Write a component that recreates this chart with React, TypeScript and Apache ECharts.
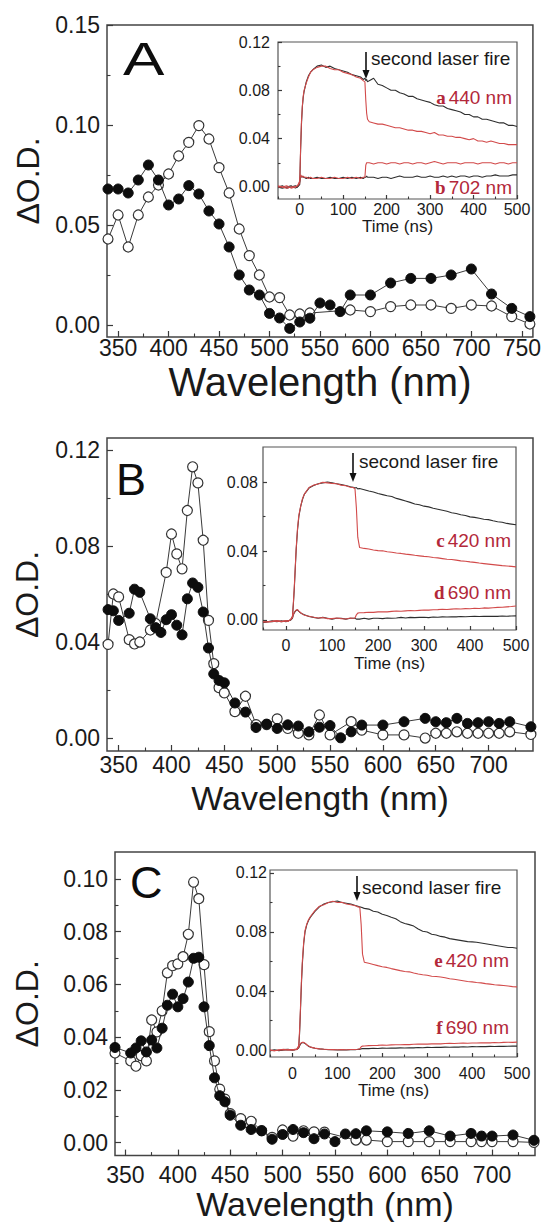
import React, { useEffect, useRef } from "react";
import * as echarts from "echarts";

const FONT = '"Liberation Sans", Arial, sans-serif';
const SERIF = '"Liberation Serif", "Times New Roman", serif';
const AX = "#3a3a3a";
const TXT = "#1a1a1a";
const RED_LINE = "#d24a4a";
const RED_TXT = "#b3283a";
const BLACK_LINE = "#2e2e2e";

// ---------- Panel A: spectra ----------
const wlAClosed = [340,350,360,370,380,390,400,410,420,430,440,450,460,470,480,490,500,510,520,530,540,550,560,570,580,600,620,640,660,680,700,720,740,758];
const odAClosed = [0.068,0.068,0.066,0.0725,0.080,0.0725,0.060,0.063,0.0697,0.0655,0.057,0.0505,0.039,0.025,0.0175,0.015,0.0058,0.0035,-0.0017,0.0015,0.0034,0.011,0.010,0.0067,0.015,0.015,0.021,0.0233,0.0233,0.025,0.028,0.0155,0.0083,0.0042];
const wlAOpen = [340,350,360,370,380,390,400,410,420,430,440,450,460,470,480,490,500,510,520,530,540,580,600,620,640,660,680,700,720,740,758];
const odAOpen = [0.043,0.055,0.039,0.055,0.064,0.070,0.0755,0.0845,0.0913,0.0997,0.093,0.0787,0.066,0.048,0.0347,0.025,0.014,0.0137,0.005,0.0055,0.006,0.0075,0.0067,0.0092,0.010,0.010,0.0083,0.010,0.0095,0.0042,0.0005];

// ---------- Panel B: spectra ----------
const wlBClosed = [340,345,350,360,365,370,380,385,390,395,400,405,410,415,420,425,430,435,440,445,450,460,470,480,490,500,510,520,530,540,550,560,570,580,600,620,640,650,660,670,680,690,700,710,720,740];
const odBClosed = [0.0535,0.053,0.049,0.052,0.062,0.0607,0.0497,0.046,0.044,0.0493,0.0514,0.047,0.043,0.058,0.0646,0.0628,0.0525,0.0375,0.0267,0.024,0.023,0.0146,0.0108,0.0044,0.0058,0.004,0.0055,0.005,0.0026,0.0045,0.0052,0.0001,0.0026,0.0054,0.0054,0.0068,0.0082,0.0068,0.0064,0.0082,0.0061,0.0064,0.0068,0.0061,0.0068,0.0047];
const wlBOpen = [340,345,350,360,365,370,380,385,395,400,405,410,415,420,425,430,435,440,445,450,460,470,480,490,500,510,520,530,540,550,570,580,600,620,640,650,660,670,680,690,700,710,720,740];
const odBOpen = [0.039,0.060,0.0588,0.041,0.0392,0.040,0.045,0.0477,0.069,0.085,0.0767,0.0705,0.0948,0.113,0.1063,0.0824,0.049,0.031,0.021,0.0188,0.011,0.0174,0.0056,0.0056,0.008,0.004,0.002,0.0013,0.0096,0.0013,0.0068,0.0033,0.0013,0.0013,0.0,0.002,0.002,0.0026,0.002,0.002,0.002,0.002,0.0026,0.0015];

// ---------- Panel C: spectra ----------
const wlCClosed = [340,355,360,365,370,375,380,385,390,395,400,405,410,415,420,425,430,435,440,445,450,460,470,480,490,500,510,520,530,540,550,560,570,580,600,620,640,660,680,690,700,720,740];
const odCClosed = [0.0361,0.034,0.0359,0.0386,0.0344,0.0389,0.0359,0.0434,0.0521,0.0563,0.0515,0.0546,0.0609,0.0699,0.0703,0.0515,0.0368,0.0246,0.0178,0.0155,0.0104,0.0066,0.005,0.0045,0.0013,0.0031,0.005,0.0038,0.0015,0.0033,0.0004,0.0033,0.0034,0.0045,0.0041,0.0035,0.0045,0.0025,0.0035,0.0025,0.0025,0.0029,0.0009];
const wlCOpen = [340,355,360,365,370,375,380,385,390,395,400,405,410,415,420,425,430,435,440,445,450,460,470,480,490,500,510,520,530,540,570,580,600,620,640,660,680,690,700,720,740];
const odCOpen = [0.034,0.031,0.029,0.033,0.031,0.0465,0.042,0.050,0.0644,0.0671,0.0678,0.0705,0.079,0.0988,0.0925,0.0675,0.0421,0.031,0.0203,0.0165,0.011,0.0091,0.0081,0.0046,0.002,0.0048,0.0025,0.0045,0.0041,0.004,0.001,0.001,0.0004,0.0004,0.0004,0.0004,0.0004,0.0004,0.0004,0.0004,0.0001];

// ---------- Inset A: kinetics ----------
const timeA = [-50,-40,-30,-20,-10,-5,0,2,4,6,8,10,15,20,25,30,40,50,60,70,80,90,100,110,120,130,140,146,150,152,154,156,160,170,180,190,200,210,220,230,240,250,260,270,280,290,300,310,320,330,340,350,360,370,380,390,400,410,420,430,440,450,460,470,480,490,500];
const blackA440 = [0.000,0.001,-0.001,0.000,0.001,0.000,0.002,0.030,0.052,0.066,0.074,0.079,0.087,0.092,0.095,0.097,0.100,0.101,0.099,0.100,0.098,0.097,0.096,0.095,0.093,0.092,0.091,0.089,0.090,0.088,0.089,0.087,0.088,0.090,0.085,0.084,0.082,0.080,0.080,0.078,0.077,0.075,0.075,0.073,0.072,0.071,0.070,0.068,0.067,0.067,0.065,0.064,0.063,0.062,0.060,0.060,0.058,0.058,0.056,0.056,0.055,0.054,0.053,0.053,0.051,0.051,0.050];
const redA440 = [0.000,0.000,0.001,-0.001,0.000,0.001,0.003,0.032,0.054,0.067,0.075,0.080,0.086,0.091,0.095,0.097,0.099,0.100,0.100,0.098,0.097,0.097,0.095,0.094,0.093,0.091,0.090,0.088,0.087,0.072,0.061,0.056,0.054,0.053,0.052,0.052,0.051,0.050,0.049,0.049,0.048,0.047,0.047,0.046,0.046,0.045,0.044,0.045,0.043,0.043,0.042,0.042,0.041,0.041,0.040,0.039,0.040,0.038,0.038,0.037,0.038,0.037,0.036,0.036,0.035,0.035,0.035];
const blackA702 = [0.000,-0.001,0.000,0.001,-0.001,0.000,0.004,0.009,0.008,0.009,0.008,0.008,0.007,0.008,0.007,0.007,0.008,0.007,0.007,0.008,0.007,0.007,0.008,0.007,0.008,0.007,0.008,0.007,0.008,0.008,0.009,0.008,0.008,0.008,0.007,0.008,0.008,0.007,0.008,0.009,0.008,0.008,0.008,0.009,0.008,0.008,0.009,0.008,0.008,0.009,0.008,0.009,0.008,0.009,0.009,0.008,0.009,0.009,0.008,0.009,0.009,0.010,0.009,0.009,0.009,0.010,0.010];
const redA702 = [0.001,0.000,-0.001,0.000,0.000,0.001,0.005,0.010,0.009,0.008,0.009,0.008,0.008,0.007,0.008,0.007,0.007,0.008,0.007,0.007,0.008,0.007,0.007,0.008,0.007,0.008,0.007,0.008,0.008,0.018,0.020,0.020,0.020,0.019,0.020,0.020,0.019,0.020,0.020,0.019,0.020,0.020,0.019,0.020,0.020,0.019,0.020,0.021,0.020,0.019,0.020,0.020,0.020,0.019,0.020,0.020,0.020,0.019,0.020,0.020,0.020,0.019,0.020,0.020,0.019,0.020,0.020];

// ---------- Insets B and C: kinetics ----------
const timeBC = [-50,-40,-30,-20,-10,0,5,10,14,16,18,20,22,25,28,32,36,40,50,60,70,80,90,100,110,120,130,140,146,150,153,156,160,170,180,190,200,210,220,230,240,250,260,270,280,290,300,310,320,330,340,350,360,370,380,390,400,410,420,430,440,450,460,470,480,490,500];
const blackB420 = [-0.0015,-0.001,-0.0005,-0.001,-0.0005,-0.001,-0.0005,0.000,0.002,0.009,0.018,0.029,0.040,0.052,0.060,0.066,0.070,0.073,0.0765,0.078,0.079,0.0795,0.080,0.0795,0.079,0.0785,0.078,0.0772,0.077,0.0765,0.0768,0.076,0.0762,0.0755,0.0748,0.0742,0.0733,0.0727,0.072,0.0716,0.0705,0.0698,0.069,0.0682,0.0673,0.0668,0.066,0.0656,0.0648,0.0642,0.0636,0.063,0.0622,0.0617,0.061,0.0606,0.0598,0.0595,0.059,0.0584,0.0582,0.0575,0.057,0.0567,0.056,0.0556,0.0552];
const redB420 = [-0.0012,-0.001,-0.0008,-0.0005,-0.001,-0.0005,-0.0008,0.0002,0.002,0.010,0.019,0.030,0.041,0.053,0.061,0.066,0.0705,0.073,0.0768,0.0782,0.0788,0.0798,0.0795,0.0792,0.079,0.0782,0.0778,0.0770,0.0768,0.0760,0.065,0.048,0.042,0.0415,0.0412,0.0406,0.0402,0.0401,0.0396,0.0393,0.0388,0.0386,0.0382,0.0379,0.0375,0.0372,0.0369,0.0367,0.0362,0.036,0.0356,0.0352,0.0351,0.0347,0.0343,0.0341,0.0337,0.0334,0.033,0.0327,0.0324,0.0321,0.0318,0.0315,0.0313,0.0311,0.0308];
const blackB690 = [-0.0015,-0.001,-0.001,-0.0005,-0.001,-0.0005,-0.0005,0.000,0.001,0.003,0.004,0.005,0.0055,0.0058,0.005,0.004,0.0035,0.003,0.002,0.0015,0.001,0.0015,0.001,0.0005,0.001,0.001,0.0005,0.001,0.001,0.001,0.0005,0.0005,0.0005,0.001,0.0005,0.001,0.001,0.0008,0.0012,0.001,0.0012,0.0015,0.0012,0.0015,0.0014,0.0015,0.0016,0.0014,0.0017,0.0016,0.0018,0.0017,0.0019,0.0018,0.002,0.0019,0.002,0.0021,0.002,0.0022,0.0021,0.0022,0.0021,0.0023,0.0022,0.0023,0.0024];
const redB690 = [-0.001,-0.0012,-0.0008,-0.0005,-0.0008,-0.0004,-0.0006,0.0002,0.0012,0.0032,0.0045,0.0052,0.0058,0.006,0.0052,0.0042,0.0034,0.0028,0.0022,0.0016,0.0012,0.0014,0.0008,0.0008,0.0012,0.0008,0.0006,0.0012,0.0010,0.0012,0.0030,0.0040,0.0042,0.0043,0.0045,0.0044,0.0047,0.0048,0.0047,0.0050,0.0052,0.0051,0.0053,0.0055,0.0054,0.0056,0.0058,0.0057,0.0059,0.006,0.0062,0.0061,0.0063,0.0065,0.0064,0.0066,0.0065,0.0068,0.0067,0.007,0.0069,0.0071,0.0073,0.0074,0.0076,0.0078,0.0081];
const blackC420 = [-0.0005,0.000,-0.0005,0.0003,0.0005,0.000,0.0002,0.0005,0.002,0.012,0.028,0.045,0.058,0.072,0.080,0.085,0.088,0.090,0.094,0.097,0.099,0.100,0.1005,0.101,0.100,0.0995,0.099,0.098,0.0975,0.097,0.0968,0.0965,0.096,0.0955,0.094,0.0935,0.092,0.0912,0.090,0.089,0.087,0.0858,0.085,0.084,0.082,0.0805,0.080,0.0785,0.078,0.077,0.0765,0.0755,0.075,0.0745,0.074,0.0735,0.0733,0.073,0.0725,0.072,0.0715,0.071,0.0705,0.070,0.0695,0.0695,0.069];
const redC420 = [0.000,-0.0005,0.000,0.0005,0.000,0.0003,0.000,0.0008,0.003,0.014,0.030,0.047,0.060,0.073,0.081,0.0855,0.0885,0.0905,0.0945,0.0975,0.0985,0.1,0.1008,0.1,0.1002,0.099,0.0985,0.0978,0.097,0.0968,0.085,0.065,0.0595,0.0588,0.058,0.0572,0.0565,0.056,0.0552,0.0545,0.0538,0.0532,0.053,0.0522,0.0515,0.051,0.0507,0.050,0.0498,0.0495,0.049,0.0483,0.048,0.0475,0.047,0.0465,0.0462,0.0458,0.0455,0.045,0.0447,0.0443,0.044,0.0437,0.0434,0.043,0.0428];
const blackC690 = [-0.0005,0.000,-0.0003,0.000,0.0002,0.000,0.0003,0.0005,0.0015,0.003,0.004,0.0048,0.005,0.005,0.0045,0.0035,0.0025,0.002,0.0012,0.0008,0.0005,0.0003,0.0002,0.000,0.0002,0.0000,0.0003,0.0002,0.0005,0.0005,0.0008,0.001,0.0011,0.001,0.0012,0.0011,0.0013,0.0012,0.0014,0.0013,0.0015,0.0014,0.0016,0.0015,0.0017,0.0016,0.0018,0.0017,0.0019,0.0018,0.002,0.0019,0.0021,0.002,0.0022,0.0021,0.0023,0.0022,0.0024,0.0023,0.0025,0.0024,0.0026,0.0025,0.0026,0.0027,0.0027];
const redC690 = [0.000,-0.0005,0.0002,0.000,0.0003,0.0002,0.0005,0.0003,0.0018,0.0035,0.0045,0.005,0.0052,0.0052,0.0046,0.0036,0.0027,0.002,0.0013,0.0008,0.0006,0.0004,0.0003,0.0002,0.0004,0.0002,0.0004,0.0004,0.0006,0.0008,0.0022,0.0027,0.0028,0.003,0.0031,0.0032,0.0034,0.0033,0.0035,0.0036,0.0036,0.0038,0.0037,0.0039,0.0040,0.0041,0.0040,0.0042,0.0043,0.0042,0.0044,0.0045,0.0044,0.0046,0.0047,0.0046,0.0048,0.0048,0.0049,0.005,0.0049,0.0051,0.005,0.0052,0.0053,0.0052,0.0054];

// ---------- Tick values ----------
const wlTicksA = [350,400,450,500,550,600,650,700,750];
const wlMinorA = [375,425,475,525,575,625,675,725];
const wlTicksBC = [350,400,450,500,550,600,650,700];
const wlMinorBC = [375,425,475,525,575,625,675,725];
const odTicksA = [0,0.05,0.10,0.15];
const odMinorA = [0.025,0.075,0.125];
const odTicksB = [0,0.04,0.08,0.12];
const odMinorB = [0.02,0.06,0.10];
const odTicksC = [0,0.02,0.04,0.06,0.08,0.10];
const odMinorC = [0.01,0.03,0.05,0.07,0.09];
const timeTicks = [0,100,200,300,400,500];
const timeMinor = [-50,50,150,250,350,450];
const insetOdTicks = [0,0.04,0.08,0.12];
const insetOdMinor = [0.02,0.06,0.10];
const insetOdTicksB = [0,0.04,0.08];
const insetOdMinorB = [0.02,0.06];

function pairs(xs: number[], ys: number[]) {
  return xs.map((x, i) => [x, ys[i]]);
}

function axisPair(dim: "x" | "y", grid: number, min: number, max: number, major: number[], minor: number[], o: any) {
  const base: any = {
    type: "value",
    gridIndex: grid,
    min,
    max,
    z: o.z,
    position: dim === "x" ? "bottom" : "left",
    splitLine: { show: false },
    axisLine: { show: false, onZero: false },
  };
  const majorAxis: any = {
    ...base,
    axisTick: { show: true, inside: true, length: o.tickLen, customValues: major, lineStyle: { color: AX, width: 1.2 } },
    axisLabel: {
      show: true,
      customValues: major,
      margin: o.margin,
      fontSize: o.fontSize,
      lineHeight: o.labelLH,
      fontFamily: FONT,
      color: TXT,
      formatter: o.formatter,
    },
  };
  if (o.name) {
    majorAxis.name = o.name;
    majorAxis.nameLocation = "middle";
    majorAxis.nameGap = o.nameGap;
    majorAxis.nameTextStyle = { fontSize: o.nameSize, lineHeight: o.nameLH, fontFamily: FONT, color: TXT };
  }
  const minorAxis: any = {
    ...base,
    axisTick: { show: true, inside: true, length: o.minorLen, customValues: minor, lineStyle: { color: AX, width: 1.1 } },
    axisLabel: { show: false },
  };
  return [majorAxis, minorAxis];
}

const fmt2 = (v: number) => v.toFixed(2);
const fmt0 = (v: number) => String(Math.round(v));

function spectrum(grid: number, xs: number[], ys: number[], filled: boolean) {
  return {
    type: "line",
    xAxisIndex: grid * 2,
    yAxisIndex: grid * 2,
    data: pairs(xs, ys),
    symbol: "circle",
    symbolSize: 10,
    z: filled ? 3 : 2,
    lineStyle: { color: "#3a3a3a", width: 1 },
    itemStyle: filled
      ? { color: "#0d0d0d", borderColor: "#0d0d0d", borderWidth: 1 }
      : { color: "#ffffff", borderColor: "#333333", borderWidth: 1.2 },
  };
}

function trace(grid: number, xs: number[], ys: number[], color: string, z: number) {
  return {
    type: "line",
    xAxisIndex: grid * 2,
    yAxisIndex: grid * 2,
    data: pairs(xs, ys),
    symbol: "none",
    z,
    lineStyle: { color, width: 1.1 },
  };
}

function laserLabel(x: number, y: number) {
  return {
    type: "text",
    x,
    y,
    z: 100,
    style: { text: "second laser fire", font: `19px ${FONT}`, fill: TXT, align: "left", verticalAlign: "middle" },
  };
}

function arrow(x: number, y1: number, y2: number) {
  return [
    { type: "line", z: 100, shape: { x1: x, y1, x2: x, y2: y2 - 6 }, style: { stroke: "#111", lineWidth: 1.6 } },
    { type: "polygon", z: 100, shape: { points: [[x - 3.5, y2 - 9], [x + 3.5, y2 - 9], [x, y2]] }, style: { fill: "#111" } },
  ];
}

function sampleLabel(letter: string, wl: string, x: number, y: number) {
  return {
    type: "text",
    x,
    y,
    z: 100,
    style: {
      text: `{l|${letter}}{n|${wl}}`,
      align: "right",
      verticalAlign: "middle",
      rich: {
        l: { font: `bold 19px ${SERIF}`, fill: RED_TXT, padding: [0, 3, 0, 0] },
        n: { font: `19px ${FONT}`, fill: RED_TXT },
      },
    },
  };
}

function panelLetter(t: string, x: number, y: number, size: number, sx: number) {
  return {
    type: "text",
    x,
    y,
    z: 100,
    scaleX: sx,
    style: { text: t, font: `${size}px ${FONT}`, fill: "#0d0d0d", align: "left", verticalAlign: "middle" },
  };
}

export default function App() {
  const ref = useRef<HTMLDivElement>(null);
  useEffect(() => {
    if (!ref.current) return;
    const chart = echarts.init(ref.current, null, { renderer: "svg" });

    const mainGrid = (left: number, top: number, width: number, height: number) => ({
      left, top, width, height, show: true, borderColor: "#444", borderWidth: 1.5, backgroundColor: "transparent", z: 0,
    });
    const insetGrid = (left: number, top: number, width: number, height: number) => ({
      left, top, width, height, show: true, borderColor: "#555", borderWidth: 1.2, backgroundColor: "#ffffff", z: 4,
    });

    const mainX = { z: 1, tickLen: 6, minorLen: 3.5, fontSize: 23, labelLH: 22, formatter: fmt0, name: "Wavelength (nm)" };
    const insetX = { z: 5, tickLen: 4, minorLen: 2.5, fontSize: 16, labelLH: 16, formatter: fmt0, name: "Time (ns)", nameSize: 17, nameLH: 14 };
    const mainY = { z: 1, tickLen: 6, minorLen: 3.5, fontSize: 23, labelLH: 22, formatter: fmt2, name: "ΔO.D.", nameSize: 32, nameLH: 32 };
    const insetY = { z: 5, tickLen: 4, minorLen: 2.5, fontSize: 16, labelLH: 16, formatter: fmt2 };

    const xAxes = [
      ...axisPair("x", 0, 339, 761, wlTicksA, wlMinorA, { ...mainX, margin: 0, nameGap: 28, nameSize: 40, nameLH: 34 }),
      ...axisPair("x", 1, -50, 500, timeTicks, timeMinor, { ...insetX, margin: 2, nameGap: 20 }),
      ...axisPair("x", 2, 339, 742, wlTicksBC, wlMinorBC, { ...mainX, margin: 3, nameGap: 30, nameSize: 34, nameLH: 34 }),
      ...axisPair("x", 3, -50, 500, timeTicks, timeMinor, { ...insetX, margin: 7, nameGap: 26 }),
      ...axisPair("x", 4, 340, 741, wlTicksBC, wlMinorBC, { ...mainX, margin: 8, nameGap: 31, nameSize: 34, nameLH: 34 }),
      ...axisPair("x", 5, -50, 500, timeTicks, timeMinor, { ...insetX, margin: 8, nameGap: 26 }),
    ];
    const yAxes = [
      ...axisPair("y", 0, -0.006, 0.15, odTicksA, odMinorA, { ...mainY, margin: 7, nameGap: 62 }),
      ...axisPair("y", 1, -0.01, 0.12, insetOdTicks, insetOdMinor, { ...insetY, margin: 8 }),
      ...axisPair("y", 2, -0.0054, 0.125, odTicksB, odMinorB, { ...mainY, margin: 7, nameGap: 64 }),
      ...axisPair("y", 3, -0.0058, 0.1003, insetOdTicksB, insetOdMinorB, { ...insetY, margin: 5 }),
      ...axisPair("y", 4, -0.0049, 0.1102, odTicksC, odMinorC, { ...mainY, margin: 7, nameGap: 72 }),
      ...axisPair("y", 5, -0.0047, 0.122, insetOdTicks, insetOdMinor, { ...insetY, margin: 3 }),
    ];

    const series: any[] = [
      spectrum(0, wlAOpen, odAOpen, false),
      spectrum(0, wlAClosed, odAClosed, true),
      spectrum(2, wlBOpen, odBOpen, false),
      spectrum(2, wlBClosed, odBClosed, true),
      spectrum(4, wlCOpen, odCOpen, false),
      spectrum(4, wlCClosed, odCClosed, true),
      trace(1, timeA, blackA440, BLACK_LINE, 6),
      trace(1, timeA, blackA702, BLACK_LINE, 6),
      trace(1, timeA, redA440, RED_LINE, 7),
      trace(1, timeA, redA702, RED_LINE, 7),
      trace(3, timeBC, blackB420, BLACK_LINE, 6),
      trace(3, timeBC, blackB690, BLACK_LINE, 6),
      trace(3, timeBC, redB420, RED_LINE, 7),
      trace(3, timeBC, redB690, RED_LINE, 7),
      trace(5, timeBC, blackC420, BLACK_LINE, 6),
      trace(5, timeBC, blackC690, BLACK_LINE, 6),
      trace(5, timeBC, redC420, RED_LINE, 7),
      trace(5, timeBC, redC690, RED_LINE, 7),
    ];

    const graphic: any[] = [
      panelLetter("A", 123, 59, 46, 1.35),
      panelLetter("B", 116, 479, 45, 1),
      panelLetter("C", 130, 882, 45, 1),
      laserLabel(371, 58),
      ...arrow(366, 52, 79),
      sampleLabel("a", "440 nm", 512, 97),
      sampleLabel("b", "702 nm", 512, 187),
      laserLabel(359, 461),
      ...arrow(353, 453, 482),
      sampleLabel("c", "420 nm", 511, 540),
      sampleLabel("d", "690 nm", 511, 592),
      laserLabel(362, 887),
      ...arrow(357, 876, 901),
      sampleLabel("e", "420 nm", 509, 960),
      sampleLabel("f", "690 nm", 509, 1027),
    ];

    chart.setOption({
      animation: false,
      backgroundColor: "#ffffff",
      textStyle: { fontFamily: FONT },
      grid: [
        mainGrid(107, 25, 427, 312),
        insetGrid(278, 42, 239, 157),
        mainGrid(107, 438, 426, 313),
        insetGrid(263, 447, 253, 183),
        mainGrid(115, 852, 420, 307),
        insetGrid(270, 870, 247, 187),
      ],
      xAxis: xAxes,
      yAxis: yAxes,
      series,
      graphic,
    });
    return () => chart.dispose();
  }, []);
  return <div ref={ref} style={{ position: "absolute", left: 0, top: 0, width: 544, height: 1222 }} />;
}
